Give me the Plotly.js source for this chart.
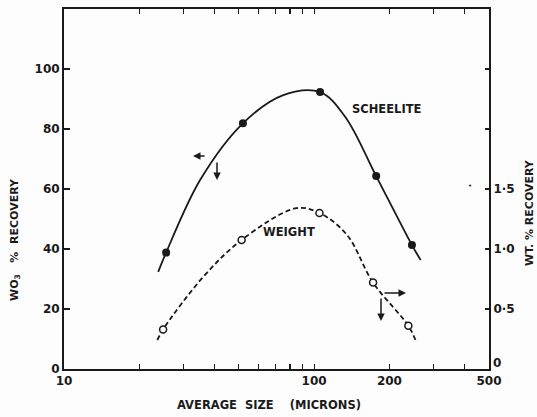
<!DOCTYPE html>
<html>
<head>
<meta charset="utf-8">
<script src="https://cdn.plot.ly/plotly-3.0.1.min.js"></script>
<style>html,body{margin:0;padding:0;background:#fdfdfd;}</style>
</head>
<body>
<div id="chart" style="width:537px;height:417px;"></div>
<script>
// Scheelite (WO3 % recovery, left axis) – measured points
const sizeScheelite = [25.6, 51.9, 105.6, 177, 246];
const wo3Recovery = [38.8, 81.9, 92.3, 64.3, 41.3];
// Scheelite fitted curve
const scheeliteCurveSize = [23.8, 25.6, 35.0, 51.9, 75.3, 105.6, 133, 177, 246, 266.6];
const scheeliteCurveVal = [32.4, 38.8, 63.0, 81.9, 91.3, 92.3, 84.1, 64.3, 41.3, 36.3];

// Weight (% recovery, right axis) – measured points
const sizeWeight = [24.9, 51.3, 105, 172, 238];
const weightRecovery = [0.33, 1.075, 1.30, 0.72, 0.36];
// Weight fitted curve
const weightCurveSize = [23.6, 24.9, 36.1, 51.3, 85, 105, 135, 172, 238, 256];
const weightCurveVal = [0.24, 0.33, 0.77, 1.075, 1.34, 1.30, 1.12, 0.72, 0.36, 0.225];

// Tick labels
const xTickVals = [10, 20, 30, 40, 50, 60, 70, 80, 90, 100, 200, 300, 400, 500];
const xTickText = ['10', '', '', '', '', '', '', '', '', '100', '200', '', '', '500'];
const yTickVals = [0, 20, 40, 60, 80, 100];
const y2TickVals = [0, 0.5, 1.0, 1.5, 2.0, 2.5];
const y2TickText = ['', '0·5', '1·0', '1·5', '', ''];

const ink = '#1a1a1a';
const FONT = 'DejaVu Sans, sans-serif';
const tf = {family: FONT, size: 12, color: ink, weight: 'bold'};

const traces = [
  {x: scheeliteCurveSize, y: scheeliteCurveVal, mode: 'lines', type: 'scatter',
   line: {color: ink, width: 1.8, shape: 'spline', smoothing: 1.0}, hoverinfo: 'skip'},
  {x: sizeScheelite, y: wo3Recovery, mode: 'markers', type: 'scatter',
   marker: {color: ink, size: 8, symbol: 'circle'}},
  {x: weightCurveSize, y: weightCurveVal, mode: 'lines', type: 'scatter', yaxis: 'y2',
   line: {color: ink, width: 1.8, dash: '5px,3px', shape: 'spline', smoothing: 1.0}, hoverinfo: 'skip'},
  {x: sizeWeight, y: weightRecovery, mode: 'markers', type: 'scatter', yaxis: 'y2',
   marker: {color: '#fdfdfd', size: 7, symbol: 'circle', line: {color: ink, width: 1.5}}}
];

// helpers: pixel -> paper
const L = 64, R = 489, T = 9, B = 369;
const px = v => (v - L) / (R - L);
const py = v => (B - v) / (B - T);
const lbl = (text, x, y, font, extra) => Object.assign({
  text: text, xref: 'paper', yref: 'paper', x: px(x), y: py(y),
  xanchor: 'center', yanchor: 'middle', showarrow: false, font: font
}, extra || {});
const titleFont = {family: FONT, size: 11, color: ink, weight: 'bold'};
const labelFont = {family: FONT, size: 11.5, color: ink, weight: 'bold'};

const annotations = [
  lbl('WO<sub>3</sub>   %  RECOVERY', 15, 240, titleFont, {textangle: -90}),
  lbl('WT. % RECOVERY', 529, 213, titleFont, {textangle: -90}),
  lbl('AVERAGE  SIZE    (MICRONS)', 269, 405, labelFont),
  lbl('SCHEELITE', 387, 109, labelFont),
  lbl('WEIGHT', 289, 232, labelFont),
  lbl('0', 491, 363, tf, {xanchor: 'left'}),
  lbl('•', 470, 186, {family: FONT, size: 7, color: ink}),
  // arrows
  {xref: 'paper', yref: 'paper', x: px(193), y: py(156), ax: 13, ay: 0, text: '',
   showarrow: true, arrowhead: 2, arrowsize: 1, arrowwidth: 1.5, arrowcolor: ink},
  {xref: 'paper', yref: 'paper', x: px(217), y: py(180), ax: 0, ay: -19, text: '',
   showarrow: true, arrowhead: 2, arrowsize: 1, arrowwidth: 1.5, arrowcolor: ink},
  {xref: 'paper', yref: 'paper', x: px(406), y: py(293), ax: -23, ay: 0, text: '',
   showarrow: true, arrowhead: 2, arrowsize: 1, arrowwidth: 1.5, arrowcolor: ink},
  {xref: 'paper', yref: 'paper', x: px(381), y: py(321), ax: 0, ay: -24, text: '',
   showarrow: true, arrowhead: 2, arrowsize: 1, arrowwidth: 1.5, arrowcolor: ink}
];

const layout = {
  width: 537, height: 417,
  margin: {l: L, r: 537 - R, t: T, b: 417 - B, pad: 0},
  paper_bgcolor: '#fdfdfd', plot_bgcolor: '#fdfdfd',
  showlegend: false,
  font: {family: FONT, size: 11, color: ink},
  xaxis: {
    type: 'log', range: [1, Math.log10(500)],
    tickmode: 'array', tickvals: xTickVals, ticktext: xTickText,
    ticks: 'inside', ticklen: 5, tickwidth: 1.2, tickcolor: ink,
    showline: true, linecolor: ink, linewidth: 2, mirror: 'ticks',
    showgrid: false, zeroline: false, tickfont: tf
  },
  yaxis: {
    range: [0, 120], tickmode: 'array', tickvals: yTickVals,
    ticks: 'inside', ticklen: 6, tickwidth: 1.2, tickcolor: ink,
    showline: true, linecolor: ink, linewidth: 2,
    showgrid: false, zeroline: false, tickfont: tf
  },
  yaxis2: {
    overlaying: 'y', side: 'right', range: [0, 3],
    tickmode: 'array', tickvals: y2TickVals, ticktext: y2TickText,
    ticks: 'inside', ticklen: 4, tickwidth: 1.2, tickcolor: ink,
    showline: true, linecolor: ink, linewidth: 2,
    showgrid: false, zeroline: false, tickfont: tf
  },
  annotations: annotations
};

Plotly.newPlot('chart', traces, layout, {displayModeBar: false, staticPlot: true});
</script>
</body>
</html>
